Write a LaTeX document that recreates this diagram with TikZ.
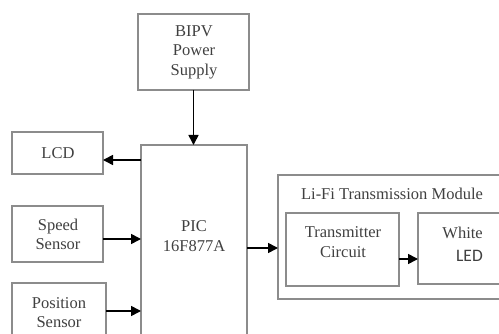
\documentclass[tikz,border=0pt]{standalone}
\usepackage{fontspec}
\setmainfont{Liberation Serif}
\newfontfamily\ledfont{Carlito}
\usetikzlibrary{arrows.meta,calc}
\begin{document}
\begin{tikzpicture}[x=1pt,y=-1pt,
  box/.style={draw=black!45,line width=1.3pt,anchor=north west,inner sep=0pt,outer sep=0pt},
  lbl/.style={align=center,inner sep=0pt,font=\fontsize{16.5}{19.5}\selectfont,text=black!75},
  arr/.style={draw=black,line width=1.6pt,-{Triangle[length=10pt,width=10pt]}}]
\useasboundingbox (0,0) rectangle (499,334);
\clip (0,0) rectangle (499,334);
% boxes
\node[box,minimum width=111pt,minimum height=76pt] (bipv) at (138,14) {};
\node[box,minimum width=106pt,minimum height=215pt] (pic) at (141,145) {};
\node[box,minimum width=91pt,minimum height=42pt] (lcd) at (12,132) {};
\node[box,minimum width=91pt,minimum height=56pt] (speed) at (12,206) {};
\node[box,minimum width=94pt,minimum height=80pt] (pos) at (12,283) {};
\node[box,minimum width=242pt,minimum height=124pt] (mod) at (278,175) {};
\node[box,minimum width=113pt,minimum height=73pt] (tx) at (286,213) {};
\node[box,minimum width=102pt,minimum height=71pt] (led) at (418,213) {};
% labels
\node[lbl] (tbipv) at (194,52) {BIPV\\Power\\Supply};
\node[lbl] (tlcd) at (58,153) {LCD};
\node[lbl] (tspeed) at (58,234.5) {Speed\\Sensor};
\node[lbl] (tpos) at (59,312.5) {Position\\Sensor};
\node[lbl] (tpic) at (194,236) {PIC\\16F877A};
\node[lbl] (tmod) at (392,194) {Li-Fi Transmission Module};
\node[lbl] (ttx) at (343,242) {Transmitter\\Circuit};
\node[lbl,anchor=east] (twhite) at (483,233) {White};
\node[lbl,anchor=east,font=\ledfont\fontsize{17.5}{19.5}\selectfont] (tled) at (483,256) {LED};
% connectors
\coordinate (ptop) at (bipv.south |- pic.north);
\draw[arr] (bipv.south) -- (ptop);
\coordinate (lcdin) at ($(lcd.east)+(0,7)$);
\draw[arr] (pic.west |- lcdin) -- (lcdin);
\coordinate (spout) at ($(speed.east)+(0,5)$);
\draw[arr] (spout) -- (pic.west |- spout);
\coordinate (posout) at (pos.east |- 0,311);
\draw[arr] (posout) -- (pic.west |- posout);
\coordinate (picout) at (pic.east |- 0,248);
\draw[arr] (picout) -- (mod.west |- picout);
\coordinate (txout) at (tx.east |- 0,259);
\draw[arr] (txout) -- (led.west |- txout);
\end{tikzpicture}
\end{document}
